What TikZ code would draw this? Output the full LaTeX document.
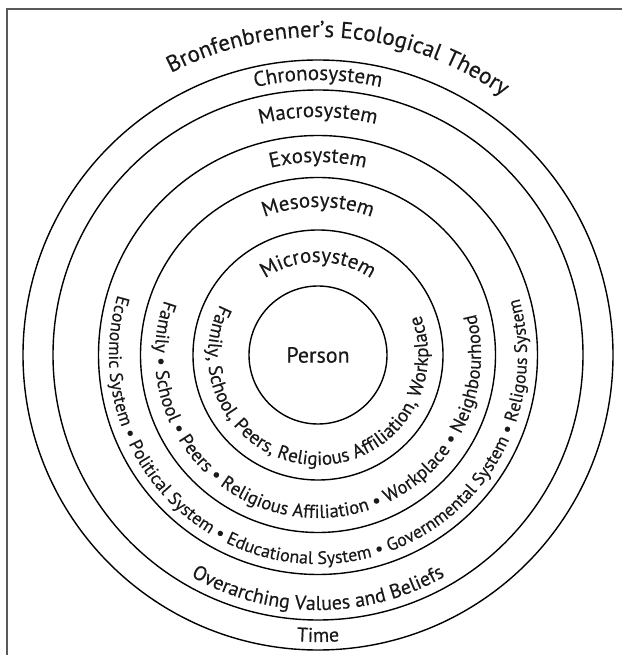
\documentclass[tikz,border=0pt]{standalone}
\usepackage{fontspec}
\setmainfont[FakeBold=0.25]{PT Sans}
\usetikzlibrary{decorations.text}
\tikzset{
  ring/.style={draw=black, line width=1.4pt},
  frameline/.style={draw=black!65, line width=2pt},
  lbl/.style={font=\fontsize{22}{26}\selectfont, text=black!90},
}
% radius, centre angle, font size, text  (letters facing outward)
\newcommand{\arctoplabel}[4]{%
  \path[decorate, decoration={text along path, text align=center,
    text={|\fontsize{#3}{#3}\selectfont\color{black!90}|#4}}]
    ({#2+180}:#1) arc[start angle={#2+180}, end angle={#2-180}, radius=#1];}
% radius, centre angle, font size, text  (letters facing the centre)
\newcommand{\arcbotlabel}[4]{%
  \path[decorate, decoration={text along path, text align=center,
    text={|\fontsize{#3}{#3}\selectfont\color{black!90}|#4}}]
    ({#2-180}:#1) arc[start angle={#2-180}, end angle={#2+180}, radius=#1];}
\begin{document}
\begin{tikzpicture}[x=1pt,y=1pt]
\useasboundingbox (-318,-300) rectangle (304,355);
\fill[white] (-318,-300) rectangle (304,355);
\coordinate (fbl) at (-311,-300);
\coordinate (ftl) at (-311,346);
\coordinate (ftr) at (304,346);
\draw[frameline] (fbl) -- (ftl) -- (ftr);
% rings
\draw[ring] (0,0) circle[radius=295];
\draw[ring] (0,0) circle[radius=265];
\draw[ring] (0,0) circle[radius=219.5];
\draw[ring] (0,0) circle[radius=177.5];
\draw[ring] (0,0) circle[radius=125];
\node[ring, circle, minimum size=138pt, inner sep=0pt, lbl] (person) at (0,0) {Person};
% labels
\arctoplabel{318}{86}{23}{Bronfenbrenner’s Ecological Theory}
\arctoplabel{275}{90}{21}{Chronosystem}
\arctoplabel{238}{90}{21}{Macrosystem}
\arctoplabel{193}{90}{21}{Exosystem}
\arctoplabel{148}{90}{21}{Mesosystem}
\arctoplabel{93}{90}{21}{Microsystem}
\arcbotlabel{287}{270}{20}{Time}
\arcbotlabel{255}{270}{20}{Overarching Values and Beliefs}
\arcbotlabel{209}{269.5}{18}{Economic System • Political System • Educational System • Governmental System • Religous System}
\arcbotlabel{163}{267.5}{18.7}{Family • School • Peers • Religious Affiliation • Workplace • Neighbourhood}
\arcbotlabel{110}{267}{19.1}{Family, School, Peers, Religious Affiliation, Workplace}
\end{tikzpicture}
\end{document}
